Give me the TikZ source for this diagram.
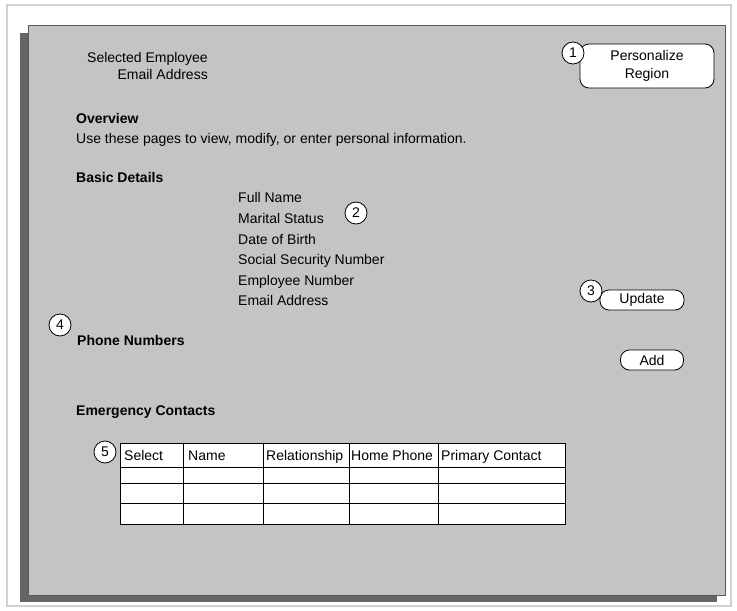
\documentclass[tikz,border=0pt]{standalone}
\usepackage{fontspec}
\setmainfont{Liberation Sans}
\begin{document}
\begin{tikzpicture}[x=1pt,y=-1pt,
  txt/.style={inner sep=0pt,anchor=base west,font=\fontsize{14}{16}\selectfont},
  hdr/.style={txt,font=\fontsize{14}{16}\selectfont\bfseries},
  badge/.style={circle,draw=black,fill=white,line width=0.8pt,minimum size=22pt,inner sep=0pt,font=\fontsize{14}{16}\selectfont},
  btn/.style={draw=black,fill=white,line width=0.8pt,rounded corners=9pt,align=center,inner sep=0pt,font=\fontsize{14}{18}\selectfont},
  cell/.style={txt}]
\definecolor{panelgray}{HTML}{C4C4C4}
\definecolor{shadowgray}{HTML}{666666}
\definecolor{framegray}{HTML}{D0D0D0}
\useasboundingbox (0,0) rectangle (737,611);
\fill[white] (0,0) rectangle (737,611);
\draw[framegray,line width=1.2pt] (7,5) rectangle (731,606);
% shadow and panel
\fill[shadowgray] (20,33) rectangle (717,602);
\fill[panelgray] (28,25) rectangle (725,595);
\draw[gray!70!black,line width=0.6pt] (28,25) rectangle (725,595);
% header
\node[txt,anchor=base east] (sel) at (208,62) {Selected Employee};
\node[txt,anchor=base east] (em) at (208,79) {Email Address};
\node[btn,minimum width=134pt,minimum height=44pt] (pers) at (647,66) {Personalize\\Region};
\node[badge] (b1) at (573,53) {1};
% overview
\node[hdr] (ov) at (76,123) {Overview};
\node[txt] (ovt) at (76,143) {Use these pages to view, modify, or enter personal information.};
\node[hdr] (bd) at (76,182) {Basic Details};
\node[txt] (f1) at (238,202) {Full Name};
\node[txt] (f2) at (238,223) {Marital Status};
\node[txt] (f3) at (238,244) {Date of Birth};
\node[txt] (f4) at (238,264) {Social Security Number};
\node[txt] (f5) at (238,285) {Employee Number};
\node[txt] (f6) at (238,305) {Email Address};
\node[badge] (b2) at (356,213) {2};
\node[btn,minimum width=84pt,minimum height=20pt] (upd) at (642,300) {Update};
\node[badge] (b3) at (591,291) {3};
\node[hdr] (pn) at (77,345) {Phone Numbers};
\node[badge] (b4) at (60,325) {4};
\node[btn,minimum width=63pt,minimum height=20pt] (add) at (652,360) {Add};
\node[hdr] (ec) at (76,415) {Emergency Contacts};
% table
\fill[white] (120,443) rectangle (565,524);
\draw[black,line width=0.8pt] (120,443) rectangle (565,524);
\foreach \y in {467,483,503} \draw[black,line width=0.7pt] (120,\y) -- (565,\y);
\foreach \x in {183,263,349,438} \draw[black,line width=0.7pt] (\x,443) -- (\x,524);
\node[cell] (c1) at (124,460) {Select};
\node[cell] (c2) at (188,460) {Name};
\node[cell] (c3) at (266,460) {Relationship};
\node[cell] (c4) at (351,460) {Home Phone};
\node[cell] (c5) at (441,460) {Primary Contact};
\node[badge] (b5) at (105,452) {5};
\end{tikzpicture}
\end{document}
